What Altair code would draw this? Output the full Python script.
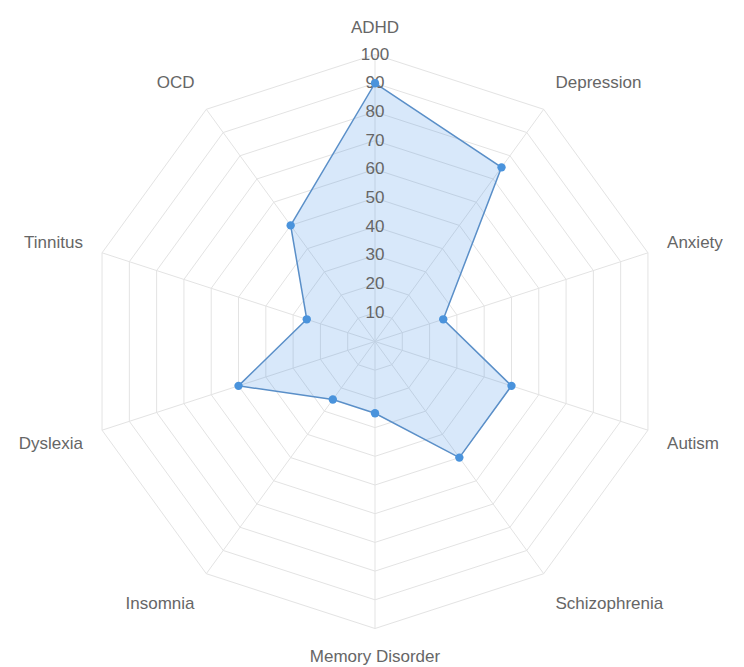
import math
import altair as alt
import pandas as pd

# ---- data ----
categories = ["ADHD", "Depression", "Anxiety", "Autism", "Schizophrenia",
              "Memory Disorder", "Insomnia", "Dyslexia", "Tinnitus", "OCD"]
values = [90, 75, 25, 50, 50, 25, 25, 50, 25, 50]
ticks = [10, 20, 30, 40, 50, 60, 70, 80, 90, 100]

MAXV = 100
LABEL_R = 107
N = len(categories)

# ---- layout ----
W, H = 728, 658
PX_PER_UNIT = 2.87
CX, CY = 367, 333.5  # centre of radar within plot area (px)
x_dom = [-CX / PX_PER_UNIT, (W - CX) / PX_PER_UNIT]
y_dom = [-(H - CY) / PX_PER_UNIT, CY / PX_PER_UNIT]

FONT = "Liberation Sans"
TEXT_COLOR = "#666666"
GRID_COLOR = "#e3e3e3"
LINE_COLOR = "#5a8fc8"
POINT_COLOR = "#4a93dc"
FILL_COLOR = "#3a8ee6"

series_df = pd.DataFrame({"idx": list(range(N)), "category": categories, "value": values})
grid_df = pd.DataFrame([{"level": t, "idx": i} for t in ticks for i in range(N)])
spoke_df = pd.DataFrame({"idx": list(range(N)), "category": categories})
tick_df = pd.DataFrame({"tick": ticks})

xs = alt.Scale(domain=x_dom, nice=False, zero=False)
ys = alt.Scale(domain=y_dom, nice=False, zero=False)
ang = f"datum.idx * 2 * PI / {N}"

grid = alt.Chart(grid_df).transform_calculate(
    gx=f"datum.level * sin({ang})", gy=f"datum.level * cos({ang})"
).mark_line(interpolate="linear-closed", stroke=GRID_COLOR, strokeWidth=1).encode(
    x=alt.X("gx:Q", scale=xs, axis=None),
    y=alt.Y("gy:Q", scale=ys, axis=None),
    detail="level:N",
    order="idx:Q",
)

spokes = alt.Chart(spoke_df).transform_calculate(
    sx=f"{MAXV} * sin({ang})", sy=f"{MAXV} * cos({ang})", zx="0", zy="0"
).mark_rule(stroke=GRID_COLOR, strokeWidth=1).encode(
    x=alt.X("zx:Q", scale=xs, axis=None),
    y=alt.Y("zy:Q", scale=ys, axis=None),
    x2="sx:Q",
    y2="sy:Q",
)

area = alt.Chart(series_df).transform_calculate(
    px=f"datum.value * sin({ang})", py=f"datum.value * cos({ang})"
).mark_line(interpolate="linear-closed", fill=FILL_COLOR, fillOpacity=0.2,
            stroke=LINE_COLOR, strokeWidth=1.5).encode(
    x=alt.X("px:Q", scale=xs, axis=None),
    y=alt.Y("py:Q", scale=ys, axis=None),
    order="idx:Q",
)

tick_labels = alt.Chart(tick_df).transform_calculate(zx="0").mark_text(
    font=FONT, fontSize=17, color=TEXT_COLOR, baseline="middle", align="center"
).encode(
    x=alt.X("zx:Q", scale=xs, axis=None),
    y=alt.Y("tick:Q", scale=ys, axis=None),
    text="tick:Q",
)

points = alt.Chart(series_df).transform_calculate(
    px=f"datum.value * sin({ang})", py=f"datum.value * cos({ang})"
).mark_circle(size=70, color=POINT_COLOR, opacity=1).encode(
    x=alt.X("px:Q", scale=xs, axis=None),
    y=alt.Y("py:Q", scale=ys, axis=None),
)

cat_labels = alt.Chart(spoke_df).transform_calculate(
    s=f"sin({ang})", c=f"cos({ang})",
    lx=f"{LABEL_R} * sin({ang})", ly=f"{LABEL_R} * cos({ang})",
    al="abs(datum.s) < 0.01 ? 'center' : (datum.s > 0 ? 'left' : 'right')",
    bl="datum.c > 0.5 ? 'bottom' : (datum.c < -0.5 ? 'top' : 'middle')",
    off="datum.c > 0.9 ? 3 : datum.c > 0.5 ? -1 : datum.c > 0 ? -4 : datum.c > -0.5 ? 8 : datum.c > -0.9 ? 6 : 0",
).mark_text(
    font=FONT, fontSize=17, color=TEXT_COLOR,
    align=alt.ExprRef(expr="datum.al"), baseline=alt.ExprRef(expr="datum.bl"),
    dy=alt.ExprRef(expr="datum.off"),
).encode(
    x=alt.X("lx:Q", scale=xs, axis=None),
    y=alt.Y("ly:Q", scale=ys, axis=None),
    text="category:N",
)

chart = alt.layer(grid, spokes, area, tick_labels, points, cat_labels).properties(
    width=W, height=H, padding=0, autosize=alt.AutoSizeParams(type="none")
).configure_view(stroke=None)

chart.save("out.html", embed_options={"renderer": "svg", "actions": False})
